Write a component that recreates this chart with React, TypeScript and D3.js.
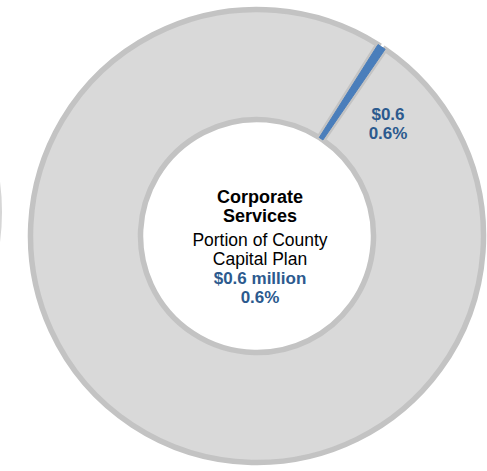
import React from "react";
import * as d3 from "d3";

const categories = ["Corporate Services", "Rest of County Capital Plan"];
const values = [0.6, 99.4];
const sliceLabels = ["$0.6", "0.6%"];
const centerTitle = ["Corporate", "Services"];
const centerSub = ["Portion of County", "Capital Plan"];
const centerValue = ["$0.6 million", "0.6%"];

const W = 487;
const H = 471;
const cx = 257;
const cy = 236;
const outerR = 226.5;
const innerR = 116.5;
const startDeg = 32.3;

export default function App() {
  const pie = d3
    .pie<number>()
    .sort(null)
    .value((d) => d)
    .startAngle((startDeg * Math.PI) / 180)
    .endAngle((startDeg * Math.PI) / 180 + 2 * Math.PI);
  const arcs = pie(values);
  const arc = d3.arc<d3.PieArcDatum<number>>().innerRadius(innerR).outerRadius(outerR);
  const colors = ["#4A7EBB", "#D9D9D9"];
  const strokes = ["#4A7EBB", "#C3C3C3"];
  const strokeW = [1, 5.5];

  // neighbouring chart edge (clipped at the left)
  const neighbour = d3.arc()({
    innerRadius: 226,
    outerRadius: 229,
    startAngle: Math.PI * 0.38,
    endAngle: Math.PI * 0.62,
  } as any);

  const blue = "#2C5A8E";
  const font = "Arial, 'Liberation Sans', sans-serif";
  const order = [1, 0];

  return (
    <svg
      width={W}
      height={H}
      style={{ position: "absolute", left: 0, top: 0, background: "#fff" }}
    >
      <g transform={`translate(${-227},${212})`}>
        <path d={neighbour || ""} fill="#D6D6D6" />
      </g>
      <g transform={`translate(${cx},${cy})`}>
        {order.map((i) => (
          <path
            key={categories[i]}
            d={arc(arcs[i]) || ""}
            fill={colors[i]}
            stroke={strokes[i]}
            strokeWidth={strokeW[i]}
            strokeLinejoin="miter"
          />
        ))}
      </g>
      <g fontFamily={font} textAnchor="middle">
        <text x={388} y={120} fill={blue} fontWeight="bold" fontSize={17}>
          {sliceLabels[0]}
        </text>
        <text x={388} y={139} fill={blue} fontWeight="bold" fontSize={17}>
          {sliceLabels[1]}
        </text>
        <text x={260} y={203} fill="#000" fontWeight="bold" fontSize={18}>
          {centerTitle[0]}
        </text>
        <text x={260} y={222} fill="#000" fontWeight="bold" fontSize={18}>
          {centerTitle[1]}
        </text>
        <text x={260} y={246} fill="#000" fontSize={17.5}>
          {centerSub[0]}
        </text>
        <text x={260} y={265} fill="#000" fontSize={17.5}>
          {centerSub[1]}
        </text>
        <text x={260} y={284} fill={blue} fontWeight="bold" fontSize={17}>
          {centerValue[0]}
        </text>
        <text x={260} y={303} fill={blue} fontWeight="bold" fontSize={17}>
          {centerValue[1]}
        </text>
      </g>
    </svg>
  );
}
